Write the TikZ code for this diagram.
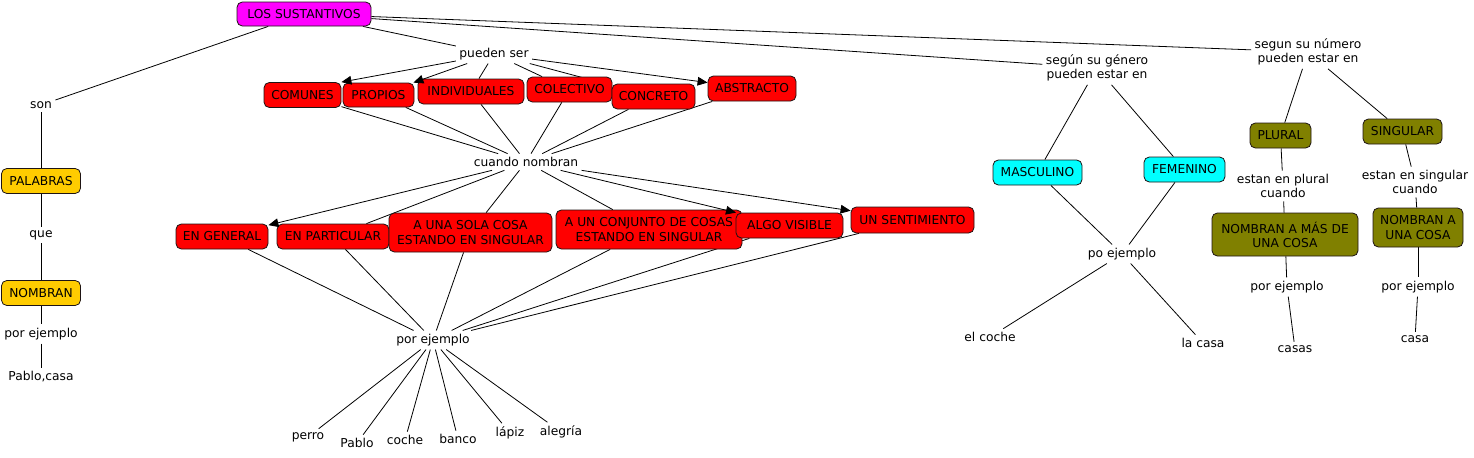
\documentclass[tikz,border=0pt]{standalone}
\usepackage{fontspec}
\setmainfont{DejaVu Sans}
\usetikzlibrary{arrows.meta,backgrounds}

\begin{document}
\begin{tikzpicture}[x=0.75pt,y=0.75pt,yscale=-1,xscale=1,
  font=\fontsize{9.2}{10.6}\selectfont,
  concept/.style={draw={rgb, 255:red, 30; green, 20; blue, 20 }, line width=0.6pt, rounded corners=4pt, inner sep=1pt, align=center},
  sz/.style 2 args={minimum width={#1*0.75pt}, minimum height={#2*0.75pt}},
  pinkbox/.style={concept, fill={rgb, 255:red, 255; green, 0; blue, 255 }},
  redbox/.style={concept, fill={rgb, 255:red, 255; green, 0; blue, 0 }},
  goldbox/.style={concept, fill={rgb, 255:red, 255; green, 204; blue, 0 }},
  cyanbox/.style={concept, fill={rgb, 255:red, 0; green, 255; blue, 255 }},
  olivebox/.style={concept, fill={rgb, 255:red, 128; green, 128; blue, 0 }},
  lbl/.style={inner sep=2.5pt, align=center},
  link/.style={line width=0.6pt},
  arr/.style={link, -{Triangle[length=7.5pt,width=6.5pt]}}]
%set diagram size to the map
\useasboundingbox (0,0) rectangle (1474,457);

%Shape: Rounded Rect [id:los]
\node[pinkbox,sz={134}{24}] (los) at (304,14) {LOS SUSTANTIVOS};

% Text Node
\node[lbl] (son) at (41,105) {son};
\node[goldbox,sz={79}{25}] (palabras) at (41,181) {PALABRAS};
\node[lbl] (que) at (41,235) {que};
\node[goldbox,sz={79}{25}] (nombran) at (41,293) {NOMBRAN};
\node[lbl] (ejnombran) at (41,334) {por ejemplo};
\node[lbl] (pablocasa) at (41,377) {Pablo,casa};

% Text Node
\node[lbl] (pueden) at (494,54) {pueden ser};
\node[redbox,sz={77}{25}] (comunes) at (302.5,95) {COMUNES};
\node[redbox,sz={71}{24}] (propios) at (378.5,95) {PROPIOS};
\node[redbox,sz={106}{25}] (individuales) at (471,91.5) {INDIVIDUALES};
\node[redbox,sz={85}{25}] (colectivo) at (569.5,89.5) {COLECTIVO};
\node[redbox,sz={83}{25}] (concreto) at (653.5,96.5) {CONCRETO};
\node[redbox,sz={88}{25}] (abstracto) at (752,88.5) {ABSTRACTO};

% Text Node
\node[lbl] (cuando) at (526,162) {cuando nombran};
\node[redbox,sz={92}{25}] (general) at (222,236.5) {EN GENERAL};
\node[redbox,sz={112}{25}] (particular) at (333,236.5) {EN PARTICULAR};
\node[redbox,sz={163}{39}] (unasola) at (470.5,232.5) {A UNA SOLA COSA\\ESTANDO EN SINGULAR};
\node[redbox,sz={186}{39}] (conjunto) at (649,229.5) {A UN CONJUNTO DE COSAS\\ESTANDO EN SINGULAR};
\node[redbox,sz={107}{25}] (visible) at (789.5,225.5) {ALGO VISIBLE};
\node[redbox,sz={123}{26}] (sentimiento) at (912.5,220) {UN SENTIMIENTO};

% Text Node
\node[lbl] (ejemplo) at (433,340) {por ejemplo};
\node[lbl] (perro) at (308,437) {perro};
\node[lbl] (pablo) at (357,443) {Pablo};
\node[lbl] (coche) at (405,440) {coche};
\node[lbl] (banco) at (458,439) {banco};
\node[lbl] (lapiz) at (510,433) {lápiz};
\node[lbl] (alegria) at (561,432) {alegría};

% Text Node
\node[lbl] (genero) at (1097,68) {según su género\\pueden estar en};
\node[cyanbox,sz={89}{25}] (masculino) at (1037.5,172.5) {MASCULINO};
\node[cyanbox,sz={81}{25}] (femenino) at (1184.5,169.5) {FEMENINO};
\node[lbl] (poej) at (1122,254) {po ejemplo};
\node[lbl] (elcoche) at (990,337) {el coche};
\node[lbl] (lacasa) at (1203,343) {la casa};

% Text Node
\node[lbl] (numero) at (1308,52) {segun su número\\pueden estar en};
\node[olivebox,sz={61}{25}] (plural) at (1280.5,135.5) {PLURAL};
\node[olivebox,sz={79}{25}] (singular) at (1402.5,131.5) {SINGULAR};
\node[lbl] (enplural) at (1283,186) {estan en plural\\cuando};
\node[lbl] (ensingular) at (1415,182) {estan en singular\\cuando};
\node[olivebox,sz={146}{43}] (masde) at (1285,234.5) {NOMBRAN A MÁS DE\\UNA COSA};
\node[olivebox,sz={90}{39}] (unacosa) at (1418,227.5) {NOMBRAN A\\UNA COSA};
\node[lbl] (ejplural) at (1287,287) {por ejemplo};
\node[lbl] (casas) at (1295,349) {casas};
\node[lbl] (ejsingular) at (1418,287) {por ejemplo};
\node[lbl] (casa) at (1415,339) {casa};

\begin{pgfonlayer}{background}
%Straight Lines: left branch
\draw[link] (los) -- (son);
\draw[link] (son) -- (palabras);
\draw[link] (palabras) -- (que);
\draw[link] (que) -- (nombran);
\draw[link] (nombran) -- (ejnombran);
\draw[link] (ejnombran) -- (pablocasa);
%Straight Lines: pueden ser
\draw[link] (los) -- (pueden);
\draw[link] (pueden) -- (individuales);
\draw[link] (pueden) -- (colectivo);
\draw[link] (pueden) -- (concreto);
\draw[link] (comunes) -- (cuando);
\draw[link] (propios) -- (cuando);
\draw[link] (individuales) -- (cuando);
\draw[link] (colectivo) -- (cuando);
\draw[link] (concreto) -- (cuando);
\draw[link] (abstracto) -- (cuando);
%Straight Lines: cuando nombran
\draw[link] (cuando) -- (particular);
\draw[link] (cuando) -- (unasola);
\draw[link] (cuando) -- (conjunto);
\draw[link] (general) -- (ejemplo);
\draw[link] (particular) -- (ejemplo);
\draw[link] (unasola) -- (ejemplo);
\draw[link] (conjunto) -- (ejemplo);
\draw[link] (visible) -- (ejemplo);
\draw[link] (sentimiento) -- (ejemplo);
\draw[link] (ejemplo) -- (perro);
\draw[link] (ejemplo) -- (pablo);
\draw[link] (ejemplo) -- (coche);
\draw[link] (ejemplo) -- (banco);
\draw[link] (ejemplo) -- (lapiz);
\draw[link] (ejemplo) -- (alegria);
%Straight Lines: genero
\draw[link] (los) -- (genero);
\draw[link] (genero) -- (masculino);
\draw[link] (genero) -- (femenino);
\draw[link] (masculino) -- (poej);
\draw[link] (femenino) -- (poej);
\draw[link] (poej) -- (elcoche);
\draw[link] (poej) -- (lacasa);
%Straight Lines: numero
\draw[link] (los) -- (numero);
\draw[link] (numero) -- (plural);
\draw[link] (numero) -- (singular);
\draw[link] (plural) -- (enplural);
\draw[link] (enplural) -- (masde);
\draw[link] (masde) -- (ejplural);
\draw[link] (ejplural) -- (casas);
\draw[link] (singular) -- (ensingular);
\draw[link] (ensingular) -- (unacosa);
\draw[link] (unacosa) -- (ejsingular);
\draw[link] (ejsingular) -- (casa);
\end{pgfonlayer}

%Arrows
\draw[arr] (pueden) -- (comunes.north east);
\draw[arr] (pueden) -- (propios);
\draw[arr] (pueden) -- (abstracto);
\draw[arr] (cuando) -- (general);
\draw[arr] (cuando) -- (visible);
\draw[arr] (cuando) -- (sentimiento);

\end{tikzpicture}
\end{document}
